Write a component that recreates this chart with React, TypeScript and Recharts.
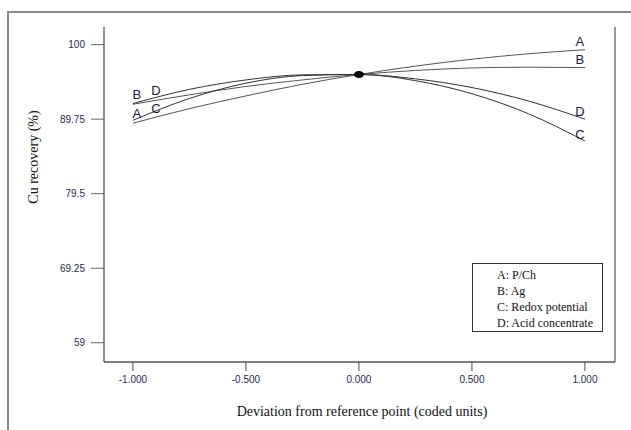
import {
  LineChart,
  Line,
  XAxis,
  YAxis,
  ReferenceLine,
  ReferenceDot,
} from "recharts";

// Perturbation plot: Cu recovery vs deviation from reference point
const CODED_X = [-1, -0.75, -0.5, -0.25, 0, 0.25, 0.5, 0.75, 1];
const SERIES_A = [89.2, 91.2, 92.95, 94.55, 95.9, 97.05, 98.0, 98.75, 99.3];
const SERIES_B = [91.8, 93.1, 94.25, 95.15, 95.9, 96.45, 96.8, 96.9, 96.85];
const SERIES_C = [89.6, 92.6, 94.7, 95.75, 95.9, 95.05, 93.25, 90.5, 86.75];
const SERIES_D = [91.9, 93.85, 95.15, 95.85, 95.9, 95.3, 94.1, 92.25, 89.75];
const SERIES_KEYS = ["A", "B", "C", "D"];
const FACTORS = ["A: P/Ch", "B: Ag", "C: Redox potential", "D: Acid concentrate"];

const X_TICKS = [-1, -0.5, 0, 0.5, 1];
const Y_TICKS = [59, 69.25, 79.5, 89.75, 100];
const X_DOMAIN = [-1.128, 1.133];
const Y_DOMAIN = [56.35, 102.43];
const REF_X = 0;
const REF_Y = 95.9;

const data = CODED_X.map((x, i) => ({
  x,
  A: SERIES_A[i],
  B: SERIES_B[i],
  C: SERIES_C[i],
  D: SERIES_D[i],
}));

// where each curve letter sits relative to its first / last point
const LABEL_OFFSETS: Record<string, { left: number[]; right: number[] }> = {
  A: { left: [4, -10], right: [-5, -8] },
  B: { left: [4, -10], right: [-5, -8] },
  C: { left: [23, -12], right: [-5, -6] },
  D: { left: [23, -13], right: [-5, -8] },
};

const SERIF = "'Liberation Serif', 'Times New Roman', serif";
const SANS = "'Liberation Sans', Arial, sans-serif";
const TICK_STYLE = { fontSize: 10, fill: "#2a2a50", fontFamily: SANS };

const makeEndLabel = (key: string) => (props: any) => {
  const { x, y, index } = props;
  const last = CODED_X.length - 1;
  if (index !== 0 && index !== last) return null;
  const off = index === 0 ? LABEL_OFFSETS[key].left : LABEL_OFFSETS[key].right;
  return (
    <text
      key={`${key}-${index}`}
      x={x + off[0]}
      y={y + off[1]}
      textAnchor="middle"
      dominantBaseline="central"
      fontSize={13}
      fontFamily={SANS}
      fill="#1a1a3a"
    >
      {key}
    </text>
  );
};

const LegendBox = () => (
  <div
    style={{
      position: "absolute",
      left: 472,
      top: 263,
      border: "1px solid #333",
      width: 131,
      height: 69,
      boxSizing: "border-box",
      padding: "3px 0 0 24px",
      fontFamily: SERIF,
      fontSize: 12,
      lineHeight: "16px",
      color: "#111",
      background: "#fff",
    }}
  >
    {FACTORS.map((f) => (
      <div key={f}>{f}</div>
    ))}
  </div>
);

const App = () => {
  return (
    <div
      style={{
        position: "absolute",
        left: 0,
        top: 0,
        width: 631,
        height: 430,
        background: "#fff",
      }}
    >
      <div
        style={{
          position: "absolute",
          left: 7,
          top: 11,
          right: 0,
          bottom: 0,
          borderTop: "2px solid #8a8a8a",
          borderLeft: "2px solid #8a8a8a",
        }}
      />
      <div style={{ position: "absolute", left: 0, top: 0 }}>
        <LineChart
          width={631}
          height={430}
          data={data}
          margin={{ top: 27, right: 16, bottom: 0, left: 0 }}
        >
          <XAxis
            dataKey="x"
            type="number"
            domain={X_DOMAIN}
            ticks={X_TICKS}
            allowDataOverflow
            height={68}
            tickSize={9}
            tickMargin={5}
            tickFormatter={(v: number) => v.toFixed(3)}
            tick={TICK_STYLE}
            axisLine={{ stroke: "#555", strokeWidth: 1.5 }}
            tickLine={{ stroke: "#444" }}
            label={{
              content: () => (
                <text
                  x={362}
                  y={411}
                  textAnchor="middle"
                  dominantBaseline="central"
                  fontSize={14}
                  fontFamily={SERIF}
                  fill="#111"
                >
                  Deviation from reference point (coded units)
                </text>
              ),
            }}
          />
          <YAxis
            type="number"
            domain={Y_DOMAIN}
            ticks={Y_TICKS}
            allowDataOverflow
            width={104}
            tickSize={13}
            tickMargin={6}
            tick={TICK_STYLE}
            axisLine={{ stroke: "#222" }}
            tickLine={{ stroke: "#666" }}
            label={{
              content: () => (
                <text
                  x={33}
                  y={157}
                  transform="rotate(-90 33 157)"
                  textAnchor="middle"
                  dominantBaseline="central"
                  fontSize={14}
                  fontFamily={SERIF}
                  fill="#111"
                >
                  Cu recovery (%)
                </text>
              ),
            }}
          />
          <ReferenceLine x={X_DOMAIN[1]} stroke="#333" strokeWidth={1} />
          {SERIES_KEYS.map((k) => (
            <Line
              key={k}
              type="monotone"
              dataKey={k}
              stroke={k === "A" || k === "B" ? "#555" : "#333"}
              strokeWidth={1}
              dot={false}
              activeDot={false}
              isAnimationActive={false}
              label={makeEndLabel(k)}
            />
          ))}
          <ReferenceDot
            x={REF_X}
            y={REF_Y}
            shape={(p: any) => (
              <ellipse cx={p.cx} cy={p.cy} rx={5} ry={3.5} fill="#000" />
            )}
          />
        </LineChart>
      </div>
      <LegendBox />
    </div>
  );
};

export default App;
